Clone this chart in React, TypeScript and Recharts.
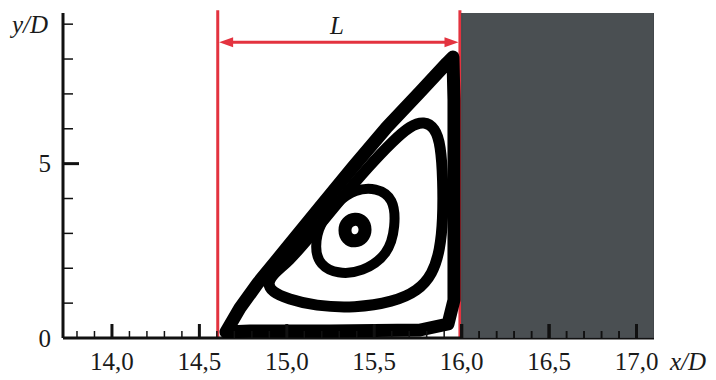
import React from 'react';
import { ComposedChart, XAxis, YAxis, Scatter, ReferenceLine, ReferenceDot, Label } from 'recharts';

const SERIF = '"Liberation Serif", "DejaVu Serif", "Times New Roman", serif';
const RED = '#e3333f';
const GRAY = '#4a4f52';
const INK = '#111111';

// axis ticks
const xTicks = [13.8, 13.9, 14.0, 14.1, 14.2, 14.3, 14.4, 14.5, 14.6, 14.7, 14.8, 14.9, 15.0, 15.1, 15.2, 15.3, 15.4, 15.5, 15.6, 15.7, 15.8, 15.9, 16.0, 16.1, 16.2, 16.3, 16.4, 16.5, 16.6, 16.7, 16.8, 16.9, 17.0];
const xMajorValues = [14.0, 14.5, 15.0, 15.5, 16.0, 16.5, 17.0];
const xMajorLabels = ['14,0', '14,5', '15,0', '15,5', '16,0', '16,5', '17,0'];
const yTicks = [0, 1, 2, 3, 4, 5, 6, 7, 8, 9];
const yMajorValues = [0, 5];
const yMajorLabels = ['0', '5'];

// recirculation zone boundaries
const leftEdgeX = 14.605;
const wallX = 15.99;
const arrowY = 8.48;
const lineTopY = 9.4;

// solid body (x from 16.0 to 17.1)
const body = [
  { x: 16.0, y: 0 }, { x: 17.1, y: 0 }, { x: 17.1, y: 9.35 }, { x: 16.0, y: 9.35 },
];

// streamlines (closed loops)
const outerBand = [
  { x: 14.652, y: 0.172 }, { x: 14.732, y: 0.86 }, { x: 14.835, y: 1.577 }, { x: 14.99, y: 2.524 },
  { x: 15.19, y: 3.757 }, { x: 15.379, y: 4.904 }, { x: 15.573, y: 6.051 }, { x: 15.762, y: 7.055 },
  { x: 15.916, y: 7.886 }, { x: 15.95, y: 8.059 }, { x: 15.956, y: 6.825 }, { x: 15.956, y: 3.384 },
  { x: 15.956, y: 1.09 }, { x: 15.922, y: 0.401 }, { x: 15.762, y: 0.229 }, { x: 15.247, y: 0.201 },
  { x: 14.79, y: 0.201 },
];
const ring3 = [
  { x: 15.785, y: 6.223 }, { x: 15.848, y: 6.022 }, { x: 15.88, y: 5.535 }, { x: 15.893, y: 4.531 },
  { x: 15.893, y: 3.384 }, { x: 15.876, y: 2.524 }, { x: 15.834, y: 1.835 }, { x: 15.75, y: 1.348 },
  { x: 15.608, y: 1.032 }, { x: 15.39, y: 0.86 }, { x: 15.161, y: 0.918 }, { x: 15.007, y: 1.118 },
  { x: 14.915, y: 1.319 }, { x: 14.887, y: 1.577 }, { x: 14.933, y: 1.893 }, { x: 15.007, y: 2.18 },
  { x: 15.133, y: 2.896 }, { x: 15.304, y: 3.958 }, { x: 15.47, y: 4.933 }, { x: 15.613, y: 5.678 },
  { x: 15.705, y: 6.08 },
];
const ring2 = [
  { x: 15.511, y: 4.316 }, { x: 15.613, y: 4.012 }, { x: 15.622, y: 3.2 }, { x: 15.582, y: 2.392 },
  { x: 15.431, y: 1.884 }, { x: 15.289, y: 1.833 }, { x: 15.188, y: 2.088 }, { x: 15.158, y: 2.592 },
  { x: 15.188, y: 3.304 }, { x: 15.289, y: 3.912 }, { x: 15.39, y: 4.264 },
];
const ring1 = [
  { x: 15.453, y: 3.097 }, { x: 15.436, y: 3.355 }, { x: 15.39, y: 3.441 }, { x: 15.344, y: 3.327 },
  { x: 15.327, y: 3.097 }, { x: 15.344, y: 2.839 }, { x: 15.39, y: 2.753 }, { x: 15.436, y: 2.868 },
];

// tick marks repeated on top of the solid body (x >= 16)
const bodyTicks = xTicks.filter((v) => v >= 16.0 - 1e-9).map((v) => ({ x: v, y: 0 }));

const noPoint = () => <g />;

const isMajorX = (v: number) => xMajorValues.some((m) => Math.abs(m - v) < 1e-6);

const BodyTick = (props: any) => {
  const { cx, cy, payload } = props;
  const major = isMajorX(payload.x);
  return <line x1={cx} x2={cx} y1={cy} y2={cy - (major ? 14 : 7)} stroke={INK} strokeWidth={major ? 3 : 1.5} />;
};

const XTick = (props: any) => {
  const { x, y, payload } = props;
  const idx = xMajorValues.findIndex((m) => Math.abs(m - payload.value) < 1e-6);
  const major = idx >= 0;
  return (
    <g>
      <line x1={x} x2={x} y1={y} y2={y - (major ? 14 : 7)} stroke={INK} strokeWidth={major ? 3 : 1.5} />
      {major && (
        <text x={x} y={y + 32} textAnchor="middle" fontFamily={SERIF} fontSize={25} fill="#1a1a1a">
          {xMajorLabels[idx]}
        </text>
      )}
    </g>
  );
};

const YTick = (props: any) => {
  const { x, y, payload } = props;
  const idx = yMajorValues.findIndex((m) => Math.abs(m - payload.value) < 1e-6);
  const major = idx >= 0;
  return (
    <g>
      {payload.value !== 0 && (
        <line x1={x} x2={x + (major ? 16 : 10)} y1={y} y2={y} stroke={INK} strokeWidth={major ? 3 : 1.5} />
      )}
      {major && (
        <text x={x - 12} y={y} dy="0.35em" textAnchor="end" fontFamily={SERIF} fontSize={25} fill="#1a1a1a">
          {yMajorLabels[idx]}
        </text>
      )}
    </g>
  );
};

const ArrowShape = (p: any) => {
  const { x1, y1, x2, y2 } = p;
  const ah = 14;
  const hw = 5;
  return (
    <g>
      <line x1={x1 + ah - 2} y1={y1} x2={x2 - ah + 2} y2={y2} stroke={RED} strokeWidth={3} />
      <polygon points={`${x1},${y1} ${x1 + ah},${y1 - hw} ${x1 + ah},${y1 + hw}`} fill={RED} />
      <polygon points={`${x2},${y2} ${x2 - ah},${y2 - hw} ${x2 - ah},${y2 + hw}`} fill={RED} />
    </g>
  );
};

export default function App() {
  return (
    <div style={{ position: 'absolute', left: 0, top: 0, width: 716, height: 380, background: '#fff' }}>
      <ComposedChart width={716} height={380} margin={{ top: 13, right: 62, bottom: 0, left: 0 }}>
        <Scatter data={body} dataKey="y" shape={noPoint} isAnimationActive={false} legendType="none"
          line={{ fill: GRAY, stroke: '#3c4144', strokeWidth: 1 }} lineJointType="linearClosed" />
        <Scatter data={outerBand} dataKey="y" shape={noPoint} isAnimationActive={false} legendType="none"
          line={{ stroke: '#000', strokeWidth: 13, strokeLinejoin: 'round' }} lineJointType="linearClosed" />
        <Scatter data={ring3} dataKey="y" shape={noPoint} isAnimationActive={false} legendType="none"
          line={{ stroke: '#000', strokeWidth: 11 }} lineJointType="basisClosed" />
        <Scatter data={ring2} dataKey="y" shape={noPoint} isAnimationActive={false} legendType="none"
          line={{ stroke: '#000', strokeWidth: 10 }} lineJointType="basisClosed" />
        <Scatter data={ring1} dataKey="y" shape={noPoint} isAnimationActive={false} legendType="none"
          line={{ stroke: '#000', strokeWidth: 13 }} lineJointType="basisClosed" />
        <Scatter data={bodyTicks} dataKey="y" shape={<BodyTick />} isAnimationActive={false} legendType="none" />
        <ReferenceLine segment={[{ x: leftEdgeX, y: 0 }, { x: leftEdgeX, y: lineTopY }]} stroke={RED} strokeWidth={3} ifOverflow="visible" />
        <ReferenceLine segment={[{ x: wallX, y: 0 }, { x: wallX, y: lineTopY }]} stroke={RED} strokeWidth={3} ifOverflow="visible" />
        <ReferenceLine segment={[{ x: leftEdgeX + 0.008, y: arrowY }, { x: wallX - 0.008, y: arrowY }]} shape={ArrowShape} ifOverflow="visible" />
        <ReferenceDot x={15.287} y={8.98} r={0} fill="none" stroke="none" ifOverflow="visible"
          label={{ value: 'L', position: 'center', fontSize: 25, fontStyle: 'italic', fontFamily: SERIF, fill: '#1a1a1a' }} />
        <XAxis
          dataKey="x"
          type="number"
          domain={[13.72, 17.1]}
          allowDataOverflow
          ticks={xTicks}
          interval={0}
          tickSize={0}
          tickMargin={0}
          tickLine={false}
          tick={<XTick />}
          height={42}
          axisLine={{ stroke: INK, strokeWidth: 3 }}
        >
          <Label
            content={(p: any) => {
              const vb = p.viewBox || { x: 63, y: 338, width: 591 };
              return (
                <text x={vb.x + vb.width + 16} y={vb.y + 32} fontFamily={SERIF} fontSize={25} fontStyle="italic" fill="#1a1a1a">
                  x/D
                </text>
              );
            }}
          />
        </XAxis>
        <YAxis
          dataKey="y"
          type="number"
          domain={[0, 9.32]}
          allowDataOverflow
          ticks={yTicks}
          interval={0}
          tickSize={0}
          tickMargin={0}
          tickLine={false}
          tick={<YTick />}
          width={63}
          axisLine={{ stroke: INK, strokeWidth: 3 }}
        >
          <Label
            content={(p: any) => {
              const vb = p.viewBox || { x: 0, y: 13 };
              return (
                <text x={vb.x + 12} y={vb.y + 20} fontFamily={SERIF} fontSize={25} fontStyle="italic" fill="#1a1a1a">
                  y/D
                </text>
              );
            }}
          />
        </YAxis>
      </ComposedChart>
    </div>
  );
}
